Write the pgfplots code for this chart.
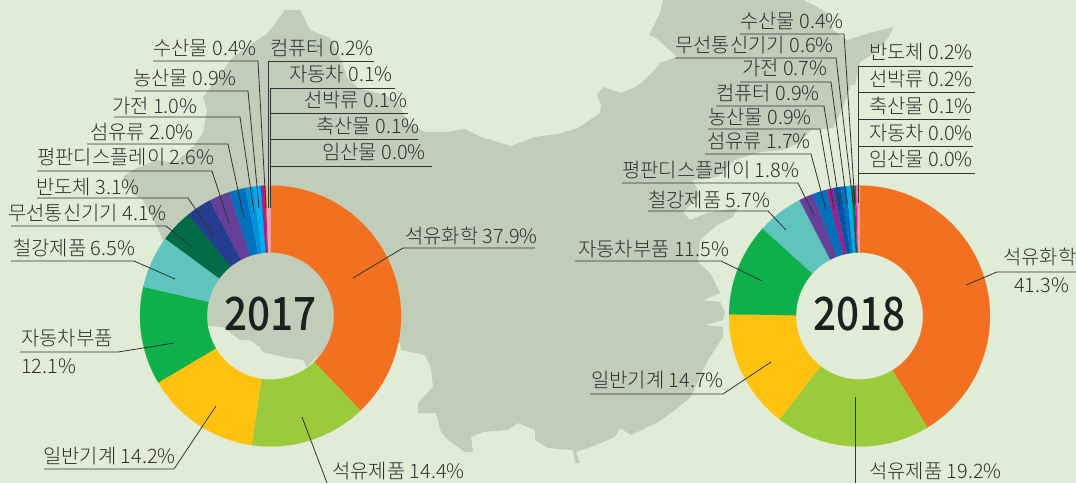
\documentclass[border=0pt]{standalone}
\usepackage{pgfplots}
\pgfplotsset{compat=1.18}
\usepackage{fontspec}
\setmainfont{Noto Sans CJK KR Light}
\newfontfamily\yearfont[FakeStretch=0.88]{Noto Sans CJK KR Medium}

\definecolor{bgpale}{HTML}{E0ECD5}
\definecolor{mapgrey}{HTML}{C1CCB9}
\definecolor{inkline}{HTML}{333333}
\definecolor{inktext}{HTML}{2E2E2E}
\definecolor{cOrange}{HTML}{F47021}
\definecolor{cLime}{HTML}{9BCB3B}
\definecolor{cYellow}{HTML}{FFC20E}
\definecolor{cGreen}{HTML}{0DB04B}
\definecolor{cTeal}{HTML}{5EC4BD}
\definecolor{cDkGreen}{HTML}{006C45}
\definecolor{cNavy}{HTML}{263C8F}
\definecolor{cPurple}{HTML}{64409A}
\definecolor{cBlue}{HTML}{0072BC}
\definecolor{cMidBlue}{HTML}{0095DA}
\definecolor{cDkBlue}{HTML}{0054A6}
\definecolor{cCyan}{HTML}{00ADEE}
\definecolor{cMagenta}{HTML}{92278F}
\definecolor{cCrimson}{HTML}{C2187F}
\definecolor{cAmber}{HTML}{F7941D}
\definecolor{cSalmon}{HTML}{F9AD81}
\definecolor{cPink}{HTML}{F06EAA}
\definecolor{cLtPink}{HTML}{F49AC1}

% one ring slice: colour, share in percent; the running total sits in \cum
\newcommand{\ringslice}[2]{%
  \pgfmathsetmacro\aS{\cum*3.6}%
  \pgfmathsetmacro\aE{(\cum+#2)*3.6}%
  \pgfmathtruncatemacro\nn{max(1,ceil((\aE-\aS)/3))}%
  \pgfmathsetmacro\stp{(\aE-\aS)/\nn}%
  \gdef\pts{}%
  \foreach \i in {0,...,\nn}{%
    \pgfmathsetmacro\aa{\aS+\i*\stp}%
    \pgfmathsetmacro\px{\cx+130.5*sin(\aa)}%
    \pgfmathsetmacro\py{\cy-130.5*cos(\aa)}%
    \xdef\pts{\pts (\px,\py)}%
  }%
  \foreach \i in {0,...,\nn}{%
    \pgfmathsetmacro\aa{\aE-\i*\stp}%
    \pgfmathsetmacro\px{\cx+63.5*sin(\aa)}%
    \pgfmathsetmacro\py{\cy-63.5*cos(\aa)}%
    \xdef\pts{\pts (\px,\py)}%
  }%
  \edef\tmpplot{\noexpand\addplot[fill=#1,draw=#1,line width=0.1pt] coordinates {\pts} -- cycle;}%
  \tmpplot
  \pgfmathsetmacro\newcum{\cum+#2}%
  \xdef\cum{\newcum}%
}
\newcommand{\leader}[1]{\addplot[draw=inkline,line width=0.8pt] coordinates {#1};}
\newcommand{\lab}[3]{\node[anchor=base west,inner sep=0pt,font=\fontsize{19.9}{20}\selectfont,text=inktext] at (axis cs:#1,#2) {#3};}

\begin{document}
\begin{tikzpicture}
\begin{axis}[
  scale only axis, width=1076pt, height=483pt,
  xmin=0, xmax=1076, ymin=0, ymax=483, y dir=reverse,
  hide axis,
]
% background and map of China
\addplot[fill=bgpale,draw=none] coordinates {(0,0) (1076,0) (1076,483) (0,483)} -- cycle;
\addplot[fill=mapgrey,draw=none] coordinates {
  (285,10) (300,10) (310,30) (330,38) (340,57) (347,77) (358,88) (385,95) (398,103)
  (408,123) (425,132) (445,132) (465,129) (481,137) (511,146) (535,137) (558,134)
  (578,128) (600,113) (601,105) (597,95) (603,87) (621,93) (635,87) (641,83) (653,72)
  (660,63) (677,57) (656,38) (649,35) (660,13) (663,0)
  (803,0) (817,7) (827,13) (833,30) (847,40) (870,33) (893,27) (889,37) (871,55) (860,62)
  (855,85) (851,85) (843,107) (833,128) (811,130) (799,143) (783,150) (760,152)
  (735,160) (717,177) (693,180) (700,195) (690,205) (683,212) (690,220) (707,213)
  (737,208) (733,217) (717,225) (700,240) (698,262) (710,273) (720,293) (703,300)
  (720,302) (725,312) (723,320) (705,325) (723,327) (723,337) (708,360) (703,370)
  (691,397) (675,410) (658,422) (631,435)
  (620,428) (615,437) (591,447) (576,452) (580,463) (575,463) (573,450) (548,448)
  (535,440) (535,430) (518,423) (508,430) (483,432) (471,437) (473,452) (465,452)
  (448,440) (441,432) (436,413) (418,413) (418,403) (433,387) (431,368) (425,355)
  (401,350) (400,343) (315,358) (307,367) (303,360) (283,357) (263,352) (260,347)
  (250,340) (240,340) (223,327) (208,326) (165,245) (157,227) (143,200) (135,195)
  (123,177) (133,170) (157,160) (175,163) (193,147) (203,133) (207,110) (203,97)
  (233,57) (268,33)
} -- cycle;

% 2017 ring
\def\cx{270.5}\def\cy{316}\gdef\cum{0}
\ringslice{cOrange}{37.9}
\ringslice{cLime}{14.4}
\ringslice{cYellow}{14.2}
\ringslice{cGreen}{12.1}
\ringslice{cTeal}{6.5}
\ringslice{cDkGreen}{4.1}
\ringslice{cNavy}{3.1}
\ringslice{cPurple}{2.6}
\ringslice{cBlue}{2.0}
\ringslice{cMidBlue}{1.0}
\ringslice{cCyan}{0.9}
\ringslice{cMagenta}{0.4}
\ringslice{cCrimson}{0.2}
\ringslice{cAmber}{0.1}
\ringslice{cSalmon}{0.1}
\ringslice{cSalmon}{0.1}
\ringslice{cLtPink}{0.3}

% 2018 ring
\def\cx{859.5}\def\cy{316}\gdef\cum{0}
\ringslice{cOrange}{41.3}
\ringslice{cLime}{19.2}
\ringslice{cYellow}{14.7}
\ringslice{cGreen}{11.5}
\ringslice{cTeal}{5.7}
\ringslice{cPurple}{1.8}
\ringslice{cBlue}{1.7}
\ringslice{cMagenta}{0.9}
\ringslice{cDkBlue}{0.9}
\ringslice{cBlue}{0.7}
\ringslice{cCyan}{0.6}
\ringslice{cDkGreen}{0.4}
\ringslice{cCrimson}{0.2}
\ringslice{cPink}{0.2}
\ringslice{cLtPink}{0.2}

% 2017 leaders
\leader{(153,61) (258,61) (266,208)}
\leader{(135,91) (248,91) (259,208)}
\leader{(114,117) (240,117) (254,212)}
\leader{(87,144) (228,144) (244,218)}
\leader{(37,171) (212,171) (229,223)}
\leader{(37,198) (188,198) (213,235)}
\leader{(11,226) (166,226) (193,248)}
\leader{(11,261) (134,261) (175,279)}
\leader{(20,352) (118,352) (174,343)}
\leader{(44,469) (174,469) (216,406)}
\leader{(302,417) (327,483)}
\leader{(535,248) (403,248) (353,278)}
\leader{(374,61) (268,61) (268,208)}
\leader{(395,88) (270,88) (270,208)}
\leader{(408,113) (270,113) (270,208)}
\leader{(418,139) (270,139) (270,208)}
\leader{(432,166) (270,166) (270,208)}

% 2018 leaders
\leader{(740,34) (844,34) (855,205)}
\leader{(675,58) (836,58) (853,203)}
\leader{(740,82) (831,82) (847,204)}
\leader{(716,106) (824,106) (840,207)}
\leader{(708,129) (820,129) (834,209)}
\leader{(705,154) (811,154) (826,210)}
\leader{(622,183) (798,183) (814,215)}
\leader{(648,211) (768,211) (786,230)}
\leader{(575,261) (721,261) (762,281)}
\leader{(590,394) (723,394) (771,362)}
\leader{(1076,272) (997,272) (966,285)}
\leader{(855,397) (855,483)}
\leader{(973,66) (858,66) (858,203)}
\leader{(975,92) (858,92) (858,203)}
\leader{(970,119) (858,119) (858,203)}
\leader{(973,146) (858,146) (858,203)}
\leader{(975,173) (858,173) (858,203)}

% 2017 labels
\lab{153}{55}{수산물 0.4\%}
\lab{133}{85}{농산물 0.9\%}
\lab{112}{113}{가전 1.0\%}
\lab{90}{139}{섬유류 2.0\%}
\lab{37}{164}{평판디스플레이 2.6\%}
\lab{36}{194}{반도체 3.1\%}
\lab{8}{220}{무선통신기기 4.1\%}
\lab{13}{255}{철강제품 6.5\%}
\lab{21}{345}{자동차부품}
\lab{21}{373}{12.1\%}
\lab{43}{463}{일반기계 14.2\%}
\lab{332}{478}{석유제품 14.4\%}
\lab{405}{243}{석유화학 37.9\%}
\lab{270}{55}{컴퓨터 0.2\%}
\lab{289}{81}{자동차 0.1\%}
\lab{304}{107}{선박류 0.1\%}
\lab{316}{133}{축산물 0.1\%}
\lab{322}{159}{임산물 0.0\%}

% 2018 labels
\lab{740}{28}{수산물 0.4\%}
\lab{675}{52}{무선통신기기 0.6\%}
\lab{742}{75}{가전 0.7\%}
\lab{716}{100}{컴퓨터 0.9\%}
\lab{708}{124}{농산물 0.9\%}
\lab{707}{148}{섬유류 1.7\%}
\lab{622}{177}{평판디스플레이 1.8\%}
\lab{648}{207}{철강제품 5.7\%}
\lab{578}{256}{자동차부품 11.5\%}
\lab{591}{387}{일반기계 14.7\%}
\lab{1003}{264}{석유화학}
\lab{1014}{292}{41.3\%}
\lab{869}{478}{석유제품 19.2\%}
\lab{869}{59}{반도체 0.2\%}
\lab{869}{86}{선박류 0.2\%}
\lab{869}{113}{축산물 0.1\%}
\lab{869}{140}{자동차 0.0\%}
\lab{869}{166}{임산물 0.0\%}

% years in the ring holes
\node[font=\yearfont\fontsize{46}{46}\selectfont,text=black!88,anchor=center] at (axis cs:270.5,314) {2017};
\node[font=\yearfont\fontsize{46}{46}\selectfont,text=black!88,anchor=center] at (axis cs:859.5,314) {2018};
\end{axis}
\end{tikzpicture}
\end{document}
